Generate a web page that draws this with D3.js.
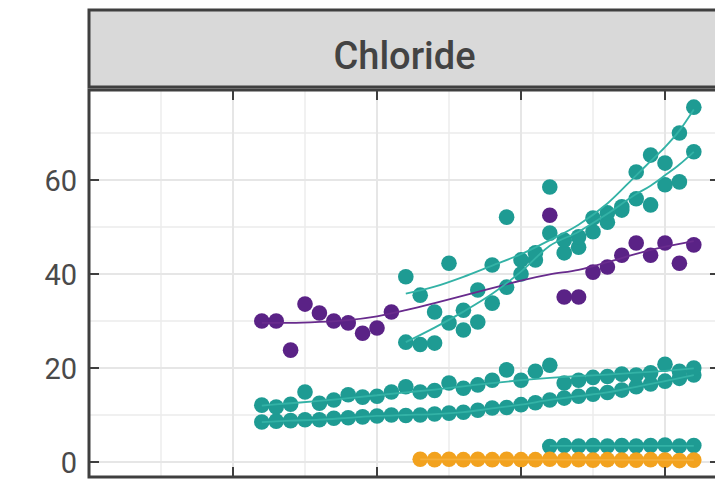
<!DOCTYPE html>
<html><head><meta charset="utf-8">
<script src="https://cdn.jsdelivr.net/npm/d3@7"></script>
<style>html,body{margin:0;padding:0;background:#fff;overflow:hidden}</style>
</head><body>
<svg id="chart" width="715" height="479"></svg>
<script>
// ---------- data ----------
const facetTitle = "Chloride";
const yTickValues = [0, 20, 40, 60];
const yMinorValues = [10, 30, 50, 70];
const xMajorYears = [1970, 1980, 1990, 2000, 2010];
const xMinorYears = [1975, 1985, 1995, 2005, 2015];

const yearsLong = [1982,1983,1984,1985,1986,1987,1988,1989,1990,1991,1992,1993,1994,1995,1996,1997,1998,1999,2000,2001,2002,2003,2004,2005,2006,2007,2008,2009,2010,2011,2012];
const yearsPurple = [1982,1983,1984,1985,1986,1987,1988,1989,1990,1991,2002,2003,2004,2005,2006,2007,2008,2009,2010,2011,2012];
const yearsMid = [1992,1993,1994,1995,1996,1997,1998,1999,2000,2001,2002,2003,2004,2005,2006,2007,2008,2009,2010,2011,2012];
const yearsOrange = [1993,1994,1995,1996,1997,1998,1999,2000,2001,2002,2003,2004,2005,2006,2007,2008,2009,2010,2011,2012];
const yearsShort = [2002,2003,2004,2005,2006,2007,2008,2009,2010,2011,2012];

const purpleVals = [30.0,30.0,23.8,33.6,31.7,30.0,29.6,27.4,28.5,31.9,52.5,35.1,35.1,40.4,41.5,44.0,46.6,44.0,46.6,42.3,46.2];
const tealUpper1 = [39.4,35.5,31.9,42.3,32.3,36.6,41.9,52.1,43.0,44.5,58.5,47.2,47.9,51.9,53.0,54.3,61.7,65.3,63.6,70.0,75.5];
const tealUpper2 = [25.5,25.0,25.3,29.6,28.1,29.8,33.8,37.2,40.0,43.0,48.7,44.5,45.7,49.0,51.0,53.6,56.0,54.7,59.0,59.6,66.0];
const tealLow1 = [12.1,11.7,12.3,14.9,12.5,13.2,14.3,13.8,14.0,14.9,16.0,14.9,15.2,16.8,15.7,16.4,17.4,19.6,17.4,19.3,20.6,16.8,17.4,18.0,18.2,18.7,18.5,19.0,20.8,19.3,20.0];
const tealLow2 = [8.5,8.7,8.8,9.0,9.0,9.3,9.4,9.6,9.8,10.0,9.9,10.0,10.2,10.4,10.6,11.0,11.5,11.6,12.2,12.6,13.2,13.6,14.0,14.4,14.8,15.3,16.0,16.6,17.2,17.8,18.5];
const tealBottom = [3.3,3.5,3.4,3.5,3.4,3.5,3.4,3.5,3.6,3.4,3.5];
const orangeVals = [0.6,0.5,0.6,0.5,0.6,0.5,0.6,0.5,0.5,0.6,0.4,0.5,0.4,0.5,0.4,0.4,0.5,0.4,0.3,0.4];

// smooth (fitted) lines
const fitYearsLong = [1982,1984,1986,1988,1990,1992,1994,1996,1998,2000,2002,2004,2006,2008,2010,2012];
const purpleFit = [29.6,29.6,29.8,30.2,31.0,32.3,33.8,35.4,37.0,38.6,39.9,40.9,42.5,44.3,45.8,47.0];
const tealLow1Fit = [12.0,12.5,13.0,13.6,14.2,14.8,15.4,16.1,16.8,17.4,17.9,18.3,18.6,19.0,19.4,19.9];
const tealLow2Fit = [8.5,8.8,9.0,9.4,9.8,10.0,10.2,10.6,11.4,12.2,13.2,14.0,14.8,16.0,17.2,18.5];
const fitYearsMid = [1992,1994,1996,1998,2000,2002,2004,2006,2008,2009,2010,2011,2012];
const tealUpper1Fit = [35.8,37.3,39.4,41.8,44.2,47.2,50.5,55.0,61.0,64.0,67.0,70.5,75.0];
const tealUpper2Fit = [25.5,28.6,32.0,35.8,40.5,46.0,49.0,52.8,57.0,58.8,61.0,63.3,66.0];
const fitYearsShort = [2002,2012];
const tealBottomFit = [3.45,3.45];
const fitYearsOrange = [1993,2012];
const orangeFit = [0.55,0.4];

// ---------- layout ----------
const svg = d3.select("#chart");
const P = {left: 89, right: 720, top: 90, bottom: 477};
const x = d3.scaleLinear().domain([1970, 2010]).range([89, 665]);
const y = d3.scaleLinear().domain([0, 60]).range([462, 180]);

const TEAL = "#1e9b93", TEAL_LINE = "#33b2a6", PURPLE = "#5a2286", PURPLE_LINE = "#682b8d", ORANGE = "#f2a21e";
const R = 7.8;

// strip
svg.append("rect").attr("x", P.left).attr("y", 10).attr("width", 700).attr("height", 77)
  .attr("fill", "#d9d9d9").attr("stroke", "#3f3f3f").attr("stroke-width", 3);
svg.append("text").attr("x", (P.left + P.right) / 2).attr("y", 56)
  .attr("text-anchor", "middle").attr("dominant-baseline", "central")
  .attr("font-family", "Roboto, 'Liberation Sans', sans-serif").attr("font-size", 38).attr("font-weight", 500)
  .attr("fill", "#434343").text(facetTitle);

// panel background
svg.append("rect").attr("x", P.left).attr("y", P.top).attr("width", P.right - P.left).attr("height", P.bottom - P.top)
  .attr("fill", "#ffffff");

const grid = svg.append("g");
grid.selectAll(".ymin").data(yMinorValues).join("line")
  .attr("x1", P.left).attr("x2", P.right).attr("y1", d => y(d)).attr("y2", d => y(d))
  .attr("stroke", "#ebebeb").attr("stroke-width", 1.4);
grid.selectAll(".xmin").data(xMinorYears).join("line")
  .attr("y1", P.top).attr("y2", P.bottom).attr("x1", d => x(d)).attr("x2", d => x(d))
  .attr("stroke", "#ebebeb").attr("stroke-width", 1.4);
grid.selectAll(".ymaj").data(yTickValues).join("line")
  .attr("x1", P.left).attr("x2", P.right).attr("y1", d => y(d)).attr("y2", d => y(d))
  .attr("stroke", "#e6e6e6").attr("stroke-width", 2);
grid.selectAll(".xmaj").data(xMajorYears).join("line")
  .attr("y1", P.top).attr("y2", P.bottom).attr("x1", d => x(d)).attr("x2", d => x(d))
  .attr("stroke", "#e6e6e6").attr("stroke-width", 2);

// points
function dots(years, vals, color) {
  svg.append("g").selectAll("circle").data(years.map((yr, i) => [yr, vals[i]])).join("circle")
    .attr("cx", d => x(d[0])).attr("cy", d => y(d[1])).attr("r", R).attr("fill", color);
}
function fit(years, vals, color) {
  svg.append("path").datum(years.map((yr, i) => [yr, vals[i]]))
    .attr("d", d3.line().x(d => x(d[0])).y(d => y(d[1])).curve(d3.curveMonotoneX))
    .attr("fill", "none").attr("stroke", color).attr("stroke-width", 1.8);
}
dots(yearsPurple, purpleVals, PURPLE);
dots(yearsLong, tealLow2, TEAL);
dots(yearsLong, tealLow1, TEAL);
dots(yearsMid, tealUpper2, TEAL);
dots(yearsMid, tealUpper1, TEAL);
dots(yearsShort, tealBottom, TEAL);
dots(yearsOrange, orangeVals, ORANGE);

fit(fitYearsLong, purpleFit, PURPLE_LINE);
fit(fitYearsLong, tealLow2Fit, TEAL_LINE);
fit(fitYearsLong, tealLow1Fit, TEAL_LINE);
fit(fitYearsMid, tealUpper2Fit, TEAL_LINE);
fit(fitYearsMid, tealUpper1Fit, TEAL_LINE);
fit(fitYearsShort, tealBottomFit, TEAL_LINE);
fit(fitYearsOrange, orangeFit, "#f5ae38");

// panel border
svg.append("rect").attr("x", P.left).attr("y", P.top).attr("width", P.right - P.left).attr("height", P.bottom - P.top)
  .attr("fill", "none").attr("stroke", "#3f3f3f").attr("stroke-width", 3);

// inward ticks on all four sides
const tk = 10;
const ticks = svg.append("g").attr("stroke", "#3f3f3f").attr("stroke-width", 2);
ticks.selectAll(".tl").data(yTickValues).join("line")
  .attr("x1", P.left).attr("x2", P.left + tk).attr("y1", d => y(d)).attr("y2", d => y(d));
ticks.selectAll(".tr").data(yTickValues).join("line")
  .attr("x1", P.right - tk).attr("x2", P.right).attr("y1", d => y(d)).attr("y2", d => y(d));
ticks.selectAll(".tt").data(xMajorYears.slice(1)).join("line")
  .attr("x1", d => x(d)).attr("x2", d => x(d)).attr("y1", P.top).attr("y2", P.top + tk);
ticks.selectAll(".tb").data(xMajorYears.slice(1)).join("line")
  .attr("x1", d => x(d)).attr("x2", d => x(d)).attr("y1", P.bottom - tk).attr("y2", P.bottom);

// y tick labels
svg.append("g").selectAll("text").data(yTickValues).join("text")
  .attr("x", 77).attr("y", d => y(d) + 1).attr("text-anchor", "end").attr("dominant-baseline", "central")
  .attr("font-family", "Roboto, 'Liberation Sans', sans-serif").attr("font-size", 29)
  .attr("fill", "#4a4a4a").text(d => d);
</script>
</body></html>
